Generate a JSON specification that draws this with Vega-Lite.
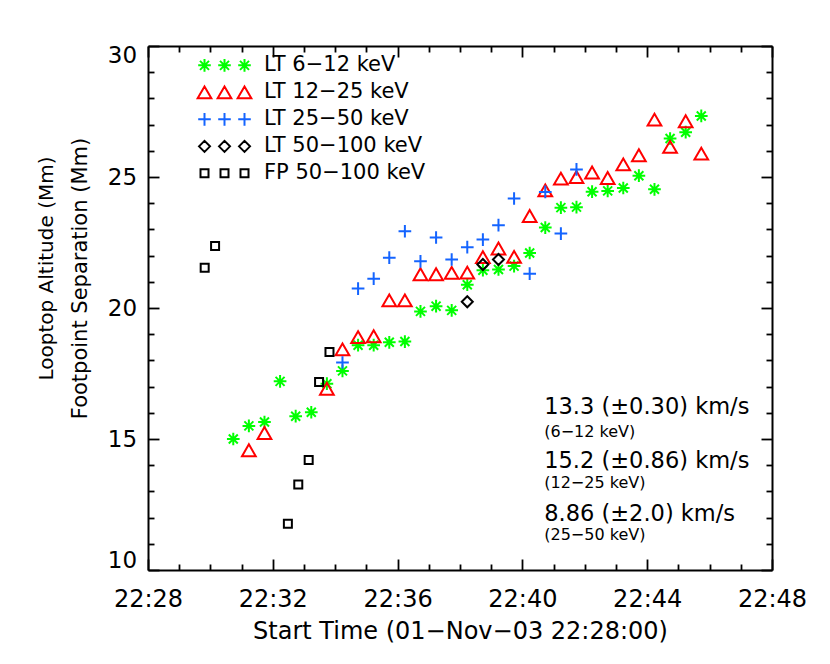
{
  "$schema": "https://vega.github.io/schema/vega-lite/v6.json",
  "width": 624,
  "height": 524,
  "autosize": "none",
  "padding": {"left": 148, "top": 46, "right": 58, "bottom": 94},
  "background": "white",
  "config": {
    "view": {"stroke": null},
    "font": "DejaVu Sans",
    "axis": {"labelFont": "DejaVu Sans", "titleFont": "DejaVu Sans", "labelColor": "black", "titleColor": "black", "domainColor": "black", "tickColor": "black", "grid": false, "titleFontWeight": "normal"},
    "legend": {"labelFont": "DejaVu Sans", "labelFontSize": 21}
  },
  "datasets": {
    "points": [
      {"series": "LT 6−12 keV", "t": 164, "alt": 15.00},
      {"series": "LT 6−12 keV", "t": 194, "alt": 15.50},
      {"series": "LT 6−12 keV", "t": 224, "alt": 15.65},
      {"series": "LT 6−12 keV", "t": 254, "alt": 17.20},
      {"series": "LT 6−12 keV", "t": 284, "alt": 15.87},
      {"series": "LT 6−12 keV", "t": 314, "alt": 16.02},
      {"series": "LT 6−12 keV", "t": 344, "alt": 17.11},
      {"series": "LT 6−12 keV", "t": 374, "alt": 17.60},
      {"series": "LT 6−12 keV", "t": 404, "alt": 18.58},
      {"series": "LT 6−12 keV", "t": 434, "alt": 18.58},
      {"series": "LT 6−12 keV", "t": 464, "alt": 18.69},
      {"series": "LT 6−12 keV", "t": 494, "alt": 18.72},
      {"series": "LT 6−12 keV", "t": 524, "alt": 19.87},
      {"series": "LT 6−12 keV", "t": 554, "alt": 20.07},
      {"series": "LT 6−12 keV", "t": 584, "alt": 19.91},
      {"series": "LT 6−12 keV", "t": 614, "alt": 20.89},
      {"series": "LT 6−12 keV", "t": 644, "alt": 21.44},
      {"series": "LT 6−12 keV", "t": 674, "alt": 21.47},
      {"series": "LT 6−12 keV", "t": 704, "alt": 21.60},
      {"series": "LT 6−12 keV", "t": 734, "alt": 22.10},
      {"series": "LT 6−12 keV", "t": 764, "alt": 23.07},
      {"series": "LT 6−12 keV", "t": 794, "alt": 23.83},
      {"series": "LT 6−12 keV", "t": 824, "alt": 23.85},
      {"series": "LT 6−12 keV", "t": 854, "alt": 24.44},
      {"series": "LT 6−12 keV", "t": 884, "alt": 24.47},
      {"series": "LT 6−12 keV", "t": 914, "alt": 24.58},
      {"series": "LT 6−12 keV", "t": 944, "alt": 25.05},
      {"series": "LT 6−12 keV", "t": 974, "alt": 24.53},
      {"series": "LT 6−12 keV", "t": 1004, "alt": 26.47},
      {"series": "LT 6−12 keV", "t": 1034, "alt": 26.71},
      {"series": "LT 6−12 keV", "t": 1064, "alt": 27.33},
      {"series": "LT 12−25 keV", "t": 194, "alt": 14.57},
      {"series": "LT 12−25 keV", "t": 224, "alt": 15.23},
      {"series": "LT 12−25 keV", "t": 344, "alt": 16.92},
      {"series": "LT 12−25 keV", "t": 374, "alt": 18.42},
      {"series": "LT 12−25 keV", "t": 404, "alt": 18.89},
      {"series": "LT 12−25 keV", "t": 434, "alt": 18.92},
      {"series": "LT 12−25 keV", "t": 464, "alt": 20.29},
      {"series": "LT 12−25 keV", "t": 494, "alt": 20.29},
      {"series": "LT 12−25 keV", "t": 524, "alt": 21.29},
      {"series": "LT 12−25 keV", "t": 554, "alt": 21.29},
      {"series": "LT 12−25 keV", "t": 584, "alt": 21.34},
      {"series": "LT 12−25 keV", "t": 614, "alt": 21.35},
      {"series": "LT 12−25 keV", "t": 644, "alt": 21.94},
      {"series": "LT 12−25 keV", "t": 674, "alt": 22.27},
      {"series": "LT 12−25 keV", "t": 704, "alt": 21.95},
      {"series": "LT 12−25 keV", "t": 734, "alt": 23.51},
      {"series": "LT 12−25 keV", "t": 764, "alt": 24.49},
      {"series": "LT 12−25 keV", "t": 794, "alt": 24.94},
      {"series": "LT 12−25 keV", "t": 824, "alt": 25.00},
      {"series": "LT 12−25 keV", "t": 854, "alt": 25.17},
      {"series": "LT 12−25 keV", "t": 884, "alt": 24.96},
      {"series": "LT 12−25 keV", "t": 914, "alt": 25.48},
      {"series": "LT 12−25 keV", "t": 944, "alt": 25.83},
      {"series": "LT 12−25 keV", "t": 974, "alt": 27.19},
      {"series": "LT 12−25 keV", "t": 1004, "alt": 26.15},
      {"series": "LT 12−25 keV", "t": 1034, "alt": 27.13},
      {"series": "LT 12−25 keV", "t": 1064, "alt": 25.89},
      {"series": "LT 25−50 keV", "t": 374, "alt": 17.92},
      {"series": "LT 25−50 keV", "t": 404, "alt": 20.74},
      {"series": "LT 25−50 keV", "t": 434, "alt": 21.12},
      {"series": "LT 25−50 keV", "t": 464, "alt": 21.92},
      {"series": "LT 25−50 keV", "t": 494, "alt": 22.93},
      {"series": "LT 25−50 keV", "t": 524, "alt": 21.78},
      {"series": "LT 25−50 keV", "t": 554, "alt": 22.69},
      {"series": "LT 25−50 keV", "t": 584, "alt": 21.85},
      {"series": "LT 25−50 keV", "t": 614, "alt": 22.32},
      {"series": "LT 25−50 keV", "t": 644, "alt": 22.61},
      {"series": "LT 25−50 keV", "t": 674, "alt": 23.16},
      {"series": "LT 25−50 keV", "t": 704, "alt": 24.18},
      {"series": "LT 25−50 keV", "t": 734, "alt": 21.31},
      {"series": "LT 25−50 keV", "t": 764, "alt": 24.43},
      {"series": "LT 25−50 keV", "t": 794, "alt": 22.84},
      {"series": "LT 25−50 keV", "t": 824, "alt": 25.29},
      {"series": "LT 50−100 keV", "t": 614, "alt": 20.24},
      {"series": "LT 50−100 keV", "t": 644, "alt": 21.66},
      {"series": "LT 50−100 keV", "t": 674, "alt": 21.85},
      {"series": "FP 50−100 keV", "t": 109, "alt": 21.54},
      {"series": "FP 50−100 keV", "t": 129, "alt": 22.37},
      {"series": "FP 50−100 keV", "t": 269, "alt": 11.77},
      {"series": "FP 50−100 keV", "t": 289, "alt": 13.26},
      {"series": "FP 50−100 keV", "t": 309, "alt": 14.20},
      {"series": "FP 50−100 keV", "t": 329, "alt": 17.18},
      {"series": "FP 50−100 keV", "t": 349, "alt": 18.32}
    ]
  },
  "data": {"name": "points"},
  "resolve": {
    "axis": {"x": "independent", "y": "independent"},
    "scale": {"color": "independent", "shape": "independent", "size": "independent"},
    "legend": {"color": "independent", "shape": "independent", "size": "independent"}
  },
  "layer": [
    {
      "mark": {"type": "point", "filled": false, "strokeWidth": 2, "opacity": 1},
      "encoding": {
        "x": {"field": "t", "type": "quantitative", "scale": {"domain": [0, 1200], "nice": false, "zero": false},
          "axis": {"orient": "bottom", "values": [0, 240, 480, 720, 960, 1200], "tickSize": -11, "tickWidth": 1.8, "domainWidth": 2, "labelPadding": 28.5, "labelFontSize": 24, "labelFlush": false, "labelOverlap": false, "labelExpr": "'22:' + (28 + datum.value / 60)", "title": "Start Time (01−Nov−03 22:28:00)", "titleFontSize": 24, "titleBaseline": "alphabetic", "titleX": 312, "titleY": 68}},
        "y": {"field": "alt", "type": "quantitative", "scale": {"domain": [10, 30], "nice": false, "zero": false},
          "axis": {"orient": "left", "values": [10, 15, 20, 25, 30], "tickSize": -11, "tickWidth": 1.8, "domainWidth": 2, "labelPadding": 22.4, "labelFontSize": 23, "labelFlush": true, "labelFlushOffset": 2, "labelOverlap": false, "title": "Footpoint Separation (Mm)", "titleFontSize": 21, "titleBaseline": "alphabetic", "titleX": -62, "titleY": 232}},
        "color": {"field": "series", "type": "nominal", "legend": null,
          "scale": {"domain": ["LT 6−12 keV", "LT 12−25 keV", "LT 25−50 keV", "LT 50−100 keV", "FP 50−100 keV"], "range": ["#00ff00", "#ff0000", "#1464ff", "#000000", "#000000"]}},
        "shape": {"field": "series", "type": "nominal", "legend": null,
          "scale": {"domain": ["LT 6−12 keV", "LT 12−25 keV", "LT 25−50 keV", "LT 50−100 keV", "FP 50−100 keV"], "range": ["M0,-1L0,1M-1,0L1,0M-0.71,-0.71L0.71,0.71M-0.71,0.71L0.71,-0.71", "triangle-up", "M-1,0L1,0M0,-1L0,1", "diamond", "square"]}},
        "size": {"field": "series", "type": "nominal", "legend": null,
          "scale": {"type": "ordinal", "domain": ["LT 6−12 keV", "LT 12−25 keV", "LT 25−50 keV", "LT 50−100 keV", "FP 50−100 keV"], "range": [161, 188, 161, 121, 64]}}
      }
    },
    {
      "mark": {"type": "point", "filled": false, "opacity": 0, "strokeWidth": 2},
      "encoding": {
        "x": {"field": "t", "type": "quantitative",
          "axis": {"orient": "bottom", "values": [60, 120, 180, 300, 360, 420, 540, 600, 660, 780, 840, 900, 1020, 1080, 1140], "tickSize": -6, "tickWidth": 1.8, "domain": false, "labels": false, "title": null}},
        "y": {"field": "alt", "type": "quantitative",
          "axis": {"orient": "left", "values": [11, 12, 13, 14, 16, 17, 18, 19, 21, 22, 23, 24, 26, 27, 28, 29], "tickSize": -6, "tickWidth": 1.8, "domain": false, "labels": false, "title": "Looptop Altitude (Mm)", "titleFontSize": 20, "titleBaseline": "alphabetic", "titleX": -96, "titleY": 222}},
        "color": {"field": "series", "type": "nominal",
          "scale": {"domain": ["LT 6−12 keV", "LT 12−25 keV", "LT 25−50 keV", "LT 50−100 keV", "FP 50−100 keV"], "range": ["#00ff00", "#ff0000", "#1464ff", "#000000", "#000000"]},
          "legend": {"orient": "none", "legendX": 39, "legendY": 6, "title": null, "padding": 0, "symbolOffset": 27, "labelOffset": 29, "rowPadding": 0, "clipHeight": 26.7, "symbolSize": 4, "symbolOpacity": 1, "symbolStrokeWidth": 2, "labelFont": "DejaVu Sans", "labelFontSize": 21, "labelColor": "black", "labelLimit": 300}},
        "shape": {"field": "series", "type": "nominal",
          "scale": {"domain": ["LT 6−12 keV", "LT 12−25 keV", "LT 25−50 keV", "LT 50−100 keV", "FP 50−100 keV"], "range": [
            "M-20,-6.3L-20,6.3M-26.3,0L-13.7,0M-24.5,-4.5L-15.5,4.5M-24.5,4.5L-15.5,-4.5M0,-6.3L0,6.3M-6.3,0L6.3,0M-4.5,-4.5L4.5,4.5M-4.5,4.5L4.5,-4.5M20,-6.3L20,6.3M13.7,0L26.3,0M15.5,-4.5L24.5,4.5M15.5,4.5L24.5,-4.5",
            "M-20,-5.95L-26.85,5.95L-13.15,5.95ZM0,-5.95L-6.85,5.95L6.85,5.95ZM20,-5.95L13.15,5.95L26.85,5.95Z",
            "M-26.3,0L-13.7,0M-20,-6.3L-20,6.3M-6.3,0L6.3,0M0,-6.3L0,6.3M13.7,0L26.3,0M20,-6.3L20,6.3",
            "M-25.5,0L-20,-5.5L-14.5,0L-20,5.5ZM-5.5,0L0,-5.5L5.5,0L0,5.5ZM14.5,0L20,-5.5L25.5,0L20,5.5Z",
            "M-24,-4L-16,-4L-16,4L-24,4ZM-4,-4L4,-4L4,4L-4,4ZM16,-4L24,-4L24,4L16,4Z"]},
          "legend": {"orient": "none", "legendX": 39, "legendY": 6, "title": null, "padding": 0, "symbolOffset": 27, "labelOffset": 29, "rowPadding": 0, "clipHeight": 26.7, "symbolSize": 4, "symbolOpacity": 1, "symbolStrokeWidth": 2, "labelFont": "DejaVu Sans", "labelFontSize": 21, "labelColor": "black", "labelLimit": 300}}
      }
    },
    {
      "mark": {"type": "point", "opacity": 0},
      "encoding": {
        "x": {"field": "t", "type": "quantitative",
          "axis": {"orient": "top", "values": [0, 240, 480, 720, 960, 1200], "tickSize": -11, "tickWidth": 1.8, "domainWidth": 2, "labels": false, "title": null}},
        "y": {"field": "alt", "type": "quantitative",
          "axis": {"orient": "right", "values": [10, 15, 20, 25, 30], "tickSize": -11, "tickWidth": 1.8, "domainWidth": 2, "labels": false, "title": null}}
      }
    },
    {
      "mark": {"type": "point", "opacity": 0},
      "encoding": {
        "x": {"field": "t", "type": "quantitative",
          "axis": {"orient": "top", "values": [60, 120, 180, 300, 360, 420, 540, 600, 660, 780, 840, 900, 1020, 1080, 1140], "tickSize": -6, "tickWidth": 1.8, "domain": false, "labels": false, "title": null}},
        "y": {"field": "alt", "type": "quantitative",
          "axis": {"orient": "right", "values": [11, 12, 13, 14, 16, 17, 18, 19, 21, 22, 23, 24, 26, 27, 28, 29], "tickSize": -6, "tickWidth": 1.8, "domain": false, "labels": false, "title": null}}
      }
    },
    {
      "data": {"values": [{"label": "13.3 (±0.30) km/s"}]},
      "mark": {"type": "text", "fontSize": 22.5, "align": "left", "baseline": "alphabetic", "color": "black"},
      "encoding": {"text": {"field": "label"}, "x": {"datum": 762, "type": "quantitative", "axis": null}, "y": {"datum": 15.96, "type": "quantitative", "axis": null}}
    },
    {
      "data": {"values": [{"label": "(6−12 keV)"}]},
      "mark": {"type": "text", "fontSize": 16, "align": "left", "baseline": "alphabetic", "color": "black"},
      "encoding": {"text": {"field": "label"}, "x": {"datum": 762, "type": "quantitative", "axis": null}, "y": {"datum": 15.09, "type": "quantitative", "axis": null}}
    },
    {
      "data": {"values": [{"label": "15.2 (±0.86) km/s"}]},
      "mark": {"type": "text", "fontSize": 22.5, "align": "left", "baseline": "alphabetic", "color": "black"},
      "encoding": {"text": {"field": "label"}, "x": {"datum": 762, "type": "quantitative", "axis": null}, "y": {"datum": 13.88, "type": "quantitative", "axis": null}}
    },
    {
      "data": {"values": [{"label": "(12−25 keV)"}]},
      "mark": {"type": "text", "fontSize": 16, "align": "left", "baseline": "alphabetic", "color": "black"},
      "encoding": {"text": {"field": "label"}, "x": {"datum": 762, "type": "quantitative", "axis": null}, "y": {"datum": 13.13, "type": "quantitative", "axis": null}}
    },
    {
      "data": {"values": [{"label": "8.86 (±2.0) km/s"}]},
      "mark": {"type": "text", "fontSize": 22.5, "align": "left", "baseline": "alphabetic", "color": "black"},
      "encoding": {"text": {"field": "label"}, "x": {"datum": 762, "type": "quantitative", "axis": null}, "y": {"datum": 11.88, "type": "quantitative", "axis": null}}
    },
    {
      "data": {"values": [{"label": "(25−50 keV)"}]},
      "mark": {"type": "text", "fontSize": 16, "align": "left", "baseline": "alphabetic", "color": "black"},
      "encoding": {"text": {"field": "label"}, "x": {"datum": 762, "type": "quantitative", "axis": null}, "y": {"datum": 11.13, "type": "quantitative", "axis": null}}
    }
  ]
}
